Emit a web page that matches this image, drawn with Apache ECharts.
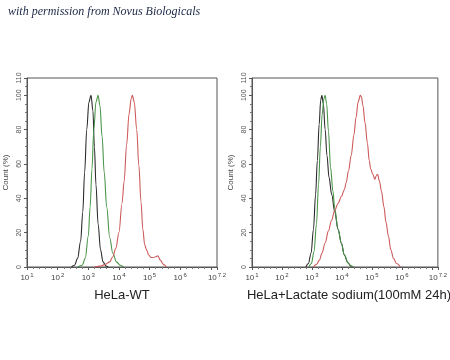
<!DOCTYPE html>
<html><head><meta charset="utf-8">
<script src="https://cdn.jsdelivr.net/npm/echarts@6/dist/echarts.min.js"></script>
<style>html,body{margin:0;padding:0;background:#fff}#c{width:450px;height:360px}</style>
</head><body><div id="c"></div>
<script>
// x = log10 fluorescence, y = Count (%)
const wtBlack = [[2.45,0],[2.55,1],[2.65,5],[2.75,15],[2.82,32],[2.88,55],[2.95,80],[3.02,96],[3.09,100],[3.15,91],[3.20,70],[3.25,48],[3.32,25],[3.40,10],[3.48,3],[3.58,0.5],[3.65,0]];
const wtGreen = [[2.65,0],[2.80,1],[2.90,5],[3.00,18],[3.06,35],[3.12,57],[3.18,80],[3.25,96],[3.32,100],[3.38,94],[3.45,76],[3.52,55],[3.60,35],[3.70,17],[3.80,8],[3.92,3],[4.05,1],[4.15,0]];
const wtRed = [[3.20,0],[3.40,0.5],[3.55,1.5],[3.70,3],[3.80,6],[3.90,11],[4.00,20],[4.10,37],[4.17,50],[4.25,71],[4.33,89],[4.40,98],[4.44,100],[4.50,96],[4.58,80],[4.65,59],[4.72,38],[4.78,22],[4.84,13],[4.90,10],[4.97,7],[5.05,5.5],[5.12,5.5],[5.20,6],[5.27,6.5],[5.35,4],[5.45,1.5],[5.55,0]];
const lacBlack = [[2.80,0],[2.88,2],[2.97,8],[3.05,22],[3.12,42],[3.18,62],[3.24,83],[3.29,97],[3.33,100],[3.38,95],[3.44,80],[3.50,65],[3.57,52],[3.66,42],[3.76,32],[3.87,22],[3.98,14],[4.08,7],[4.20,2.5],[4.30,0.5],[4.38,0]];
const lacGreen = [[2.90,0],[2.98,2],[3.07,9],[3.15,25],[3.22,48],[3.28,70],[3.34,89],[3.40,98],[3.44,100],[3.49,95],[3.55,79],[3.62,58],[3.70,44],[3.76,34],[3.87,22],[3.98,14],[4.08,7],[4.20,2.5],[4.30,0.5],[4.38,0]];
const lacRed = [[3.05,0],[3.15,1.5],[3.25,4],[3.33,8],[3.44,14],[3.55,21],[3.65,27],[3.76,33],[3.87,37],[3.98,41],[4.08,45],[4.14,49],[4.22,56],[4.31,65],[4.40,77],[4.47,87],[4.54,96],[4.61,100],[4.65,99],[4.70,94],[4.77,84],[4.85,72],[4.91,62],[4.96,57],[5.03,54],[5.10,51],[5.14,53],[5.19,54],[5.25,50],[5.32,44],[5.40,35],[5.47,26],[5.55,18],[5.63,10],[5.72,5],[5.82,2],[5.95,0]];
const panelTitles = ['HeLa-WT', 'HeLa+Lactate sodium(100mM 24h)'];
const yTitle = 'Count (%)';
const header = 'with permission from Novus Biologicals';

const C_BLACK = '#2b2b2b', C_GREEN = '#4a944a', C_RED = '#cc5a5a';
const axisCol = '#555';
function xAxis(i){
  return {type:'value', gridIndex:i, min:1, max:7.2, interval:1,
    axisLine:{lineStyle:{color:axisCol,width:1}}, splitLine:{show:false},
    axisTick:{show:true, length:3, lineStyle:{color:axisCol}},
    minorTick:{show:true, splitNumber:5, length:2, lineStyle:{color:'#777'}},
    axisLabel:{margin:5, color:'#444', fontFamily:'Liberation Sans', showMaxLabel:true,
      formatter:function(v){ if (Math.abs(v-7)<1e-9) return ''; return '{b|10}{s|'+(Math.round(v*10)/10)+'}'; },
      rich:{b:{fontSize:8, color:'#444', fontFamily:'Liberation Sans'}, s:{fontSize:6, color:'#444', fontFamily:'Liberation Sans', verticalAlign:'top', padding:[0,0,5,1]}}}
  };
}
function yAxis(i){
  return {type:'value', gridIndex:i, min:0, max:110, interval:20,
    name: yTitle, nameLocation:'middle', nameGap:17, nameRotate:90,
    nameTextStyle:{fontSize:8, color:'#444', fontFamily:'Liberation Sans'},
    axisLine:{show:true, lineStyle:{color:axisCol,width:1}}, splitLine:{show:false},
    axisTick:{show:true, length:3, lineStyle:{color:axisCol}},
    minorTick:{show:true, splitNumber:4, length:2, lineStyle:{color:'#777'}},
    axisLabel:{rotate:90, margin:4, fontSize:7, color:'#555', fontFamily:'Liberation Sans', showMaxLabel:true}
  };
}
function ln(data, color, gi){
  return {type:'line', xAxisIndex:gi, yAxisIndex:gi, data:data, showSymbol:false, smooth:0.35, smoothMonotone:'x',
    lineStyle:{color:color, width:1.1}, itemStyle:{color:color}, silent:true, animation:false};
}
const chart = echarts.init(document.getElementById('c'), null, {renderer:'canvas'});
chart.setOption({
  animation:false,
  backgroundColor:'#fff',
  title:[
    {text:header, left:8, top:6, padding:0, textStyle:{fontSize:12, fontStyle:'italic', fontWeight:'normal', color:'#1a2746', fontFamily:'Liberation Serif'}}
  ],
  graphic:[
    {type:'text', x:122, y:295, style:{text:panelTitles[0], align:'center', verticalAlign:'middle', fontSize:13, fill:'#222', fontFamily:'Liberation Sans'}},
    {type:'text', x:349, y:295, style:{text:panelTitles[1], align:'center', verticalAlign:'middle', fontSize:13, fill:'#222', fontFamily:'Liberation Sans'}}
  ],
  grid:[
    {left:27, top:78, width:190, height:189, show:true, borderColor:axisCol, borderWidth:1, backgroundColor:'transparent'},
    {left:252, top:78, width:190, height:189, show:true, borderColor:axisCol, borderWidth:1, backgroundColor:'transparent'}
  ],
  xAxis:[xAxis(0), xAxis(1)],
  yAxis:[yAxis(0), yAxis(1)],
  series:[
    ln(wtBlack, C_BLACK, 0), ln(wtGreen, C_GREEN, 0), ln(wtRed, C_RED, 0),
    ln(lacBlack, C_BLACK, 1), ln(lacGreen, C_GREEN, 1), ln(lacRed, C_RED, 1)
  ]
});
</script></body></html>
